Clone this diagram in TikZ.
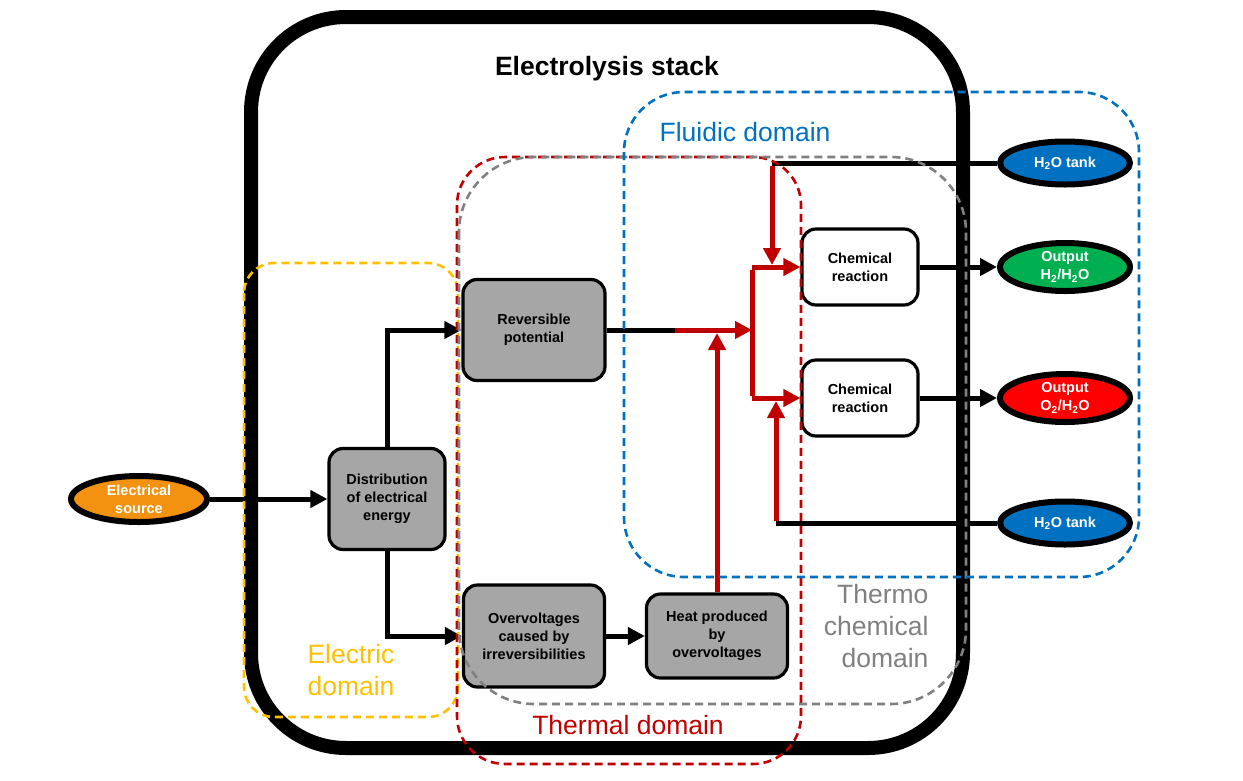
\documentclass[tikz,border=0pt]{standalone}
\usepackage{fontspec}
\setmainfont{Liberation Sans}
\usetikzlibrary{arrows.meta,shapes.geometric}
\definecolor{boxgray}{HTML}{A6A6A6}
\definecolor{domyellow}{HTML}{FFC000}
\definecolor{domred}{HTML}{C00000}
\definecolor{domgray}{HTML}{808080}
\definecolor{domblue}{HTML}{0070C0}
\definecolor{srcorange}{HTML}{F39110}
\definecolor{outgreen}{HTML}{00B050}
\definecolor{outred}{HTML}{FF0000}
\tikzset{
  boxtext/.style={font=\bfseries\fontsize{14.5}{18}\selectfont},
  blockbox/.style={draw=black, line width=3.2pt, rounded corners=14pt, fill=boxgray, boxtext, align=center, inner sep=0pt},
  whitebox/.style={blockbox, fill=white},
  ell/.style={ellipse, draw=black, line width=6pt, text=white, boxtext, align=center, inner sep=0pt},
  conn/.style={line width=5pt, draw=black},
  conntip/.style={conn, -{Triangle[length=17pt,width=17pt]}},
  rconn/.style={line width=5pt, draw=domred},
  rconntip/.style={rconn, -{Triangle[length=17pt,width=17pt]}},
  domframe/.style={line width=2.6pt, dash pattern=on 8pt off 5pt},
  domlabel/.style={font=\fontsize{26.5}{32}\selectfont},
}
\begin{document}
\begin{tikzpicture}[x=1pt,y=-1pt]
\useasboundingbox (0,0) rectangle (1243,780);
% stack
\draw[line width=14pt, rounded corners=95pt] (251,17) rectangle (963,748);
\node[font=\bfseries\fontsize{26.5}{32}\selectfont] (title) at (607,69) {Electrolysis stack};

% nodes
\node[ell, fill=srcorange, minimum width=136pt, minimum height=46pt] (src) at (139,499) {Electrical\\source};
\node[blockbox, minimum width=116pt, minimum height=101pt] (dist) at (387,499) {Distribution\\of electrical\\energy};
\node[blockbox, minimum width=142pt, minimum height=101pt] (rev) at (534,330) {Reversible\\potential};
\node[blockbox, minimum width=141pt, minimum height=102pt] (over) at (534,636) {Overvoltages\\caused by\\irreversibilities};
\node[blockbox, minimum width=141pt, minimum height=84pt] (heat) at (717,636) {Heat produced\\by\\overvoltages};
\node[whitebox, minimum width=116pt, minimum height=76pt] (cr1) at (860,267) {Chemical\\reaction};
\node[whitebox, minimum width=116pt, minimum height=76pt] (cr2) at (860,398) {Chemical\\reaction};
\node[ell, fill=domblue, minimum width=130pt, minimum height=43pt] (tank1) at (1065,163) {H\textsubscript{2}O tank};
\node[ell, fill=outgreen, minimum width=130pt, minimum height=48pt] (outh) at (1065,267) {Output\\H\textsubscript{2}/H\textsubscript{2}O};
\node[ell, fill=outred, minimum width=130pt, minimum height=48pt] (outo) at (1065,398) {Output\\O\textsubscript{2}/H\textsubscript{2}O};
\node[ell, fill=domblue, minimum width=130pt, minimum height=43pt] (tank2) at (1065,523) {H\textsubscript{2}O tank};

% coordinates
\coordinate (m) at (675,330);
\coordinate (j) at (752,330);
\coordinate (jt) at (752,267);
\coordinate (jb) at (752,398);
\coordinate (hj) at (717,333);
\coordinate (t1) at (772,163);
\coordinate (t1e) at (772,265);
\coordinate (t2) at (776,523);
\coordinate (t2e) at (776,401);

% connectors
\draw[conntip] (src) -- (dist);
\draw[conntip] (dist.north) |- (rev.west);
\draw[conntip] (dist.south) |- (over.west);
\draw[conntip] (over) -- (heat);
\draw[conn] (rev.east) -- (m);
\draw[rconntip] (m) -- (j);
\draw[rconntip] (heat.north) -- (hj);
\draw[rconn] ([yshift=-2.5pt]jt) -- ([yshift=2.5pt]jb);
\draw[rconntip] (jt) -- (cr1.west);
\draw[rconntip] (jb) -- (cr2.west);
\draw[conn] (tank1.west) -- (t1);
\draw[rconntip] ([yshift=-2.5pt]t1) -- (t1e);
\draw[conn] (tank2.west) -- (t2);
\draw[rconntip] ([yshift=2.5pt]t2) -- (t2e);
\draw[conntip] (cr1.east) -- (outh.west);
\draw[conntip] (cr2.east) -- (outo.west);

% domains
\draw[domframe, draw=domyellow, rounded corners=30pt] (244,263) rectangle (458,717);
\draw[domframe, draw=domred, rounded corners=48pt] (457,157) rectangle (801,764);
\draw[domframe, draw=domgray, rounded corners=75pt] (459,157) rectangle (966,704);
\draw[domframe, draw=domblue, rounded corners=60pt] (624,92) rectangle (1139,577);

% domain labels
\node[domlabel, text=domyellow, align=left, anchor=west] (lel) at (304,670) {Electric\\domain};
\node[domlabel, text=domred] (lth) at (628,725) {Thermal domain};
\node[domlabel, text=domgray, align=right, anchor=east] (ltc) at (932,626) {Thermo\\chemical\\domain};
\node[domlabel, text=domblue] (lfl) at (745,132) {Fluidic domain};
\end{tikzpicture}
\end{document}
